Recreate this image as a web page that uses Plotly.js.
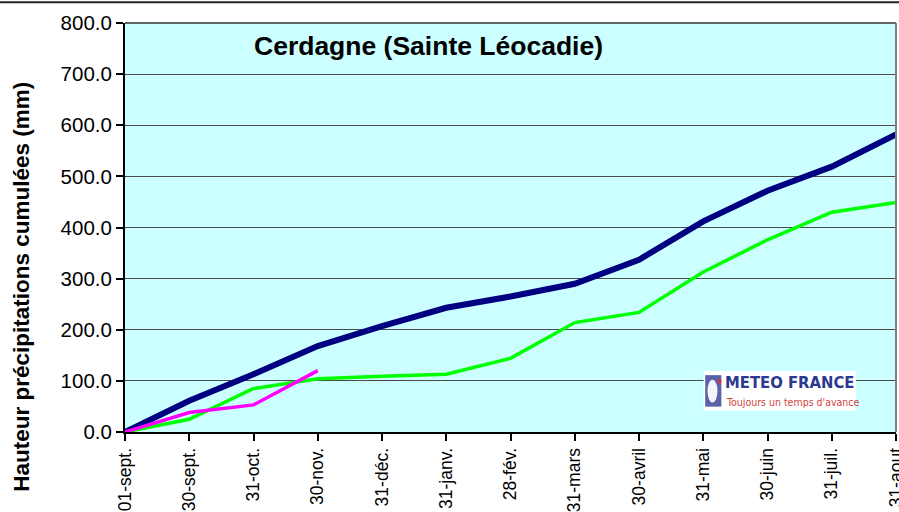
<!DOCTYPE html>
<html>
<head>
<meta charset="utf-8">
<script src="https://cdn.plot.ly/plotly-3.0.1.min.js"></script>
<style>html,body{margin:0;padding:0;background:#fff;}#chart{width:899px;height:512px;}</style>
</head>
<body>
<div id="chart"></div>
<script>
var categories = ["01-sept.", "30-sept.", "31-oct.", "30-nov.", "31-déc.", "31-janv.", "28-fév.", "31-mars", "30-avril", "31-mai", "30-juin", "31-juil.", "31-aout"];
var normale = [0, 61, 113, 168, 207, 243, 265, 290, 337, 412, 472, 519, 582];
var anneePrecedente = [0, 25, 85, 104, 109, 113, 144, 214, 234, 313, 376, 430, 449];
var anneeEnCours = [0, 38, 53, 120];
var yTicks = [0, 100, 200, 300, 400, 500, 600, 700, 800];

var FONT = "Liberation Sans, Arial, sans-serif";
var NARROW = "Liberation Sans Narrow, DejaVu Sans Condensed, Liberation Sans, sans-serif";

var traces = [
  {x: categories, y: normale, type: "scatter", mode: "lines", line: {color: "#000080", width: 6}, hoverinfo: "skip"},
  {x: categories, y: anneePrecedente, type: "scatter", mode: "lines", line: {color: "#00FF00", width: 3.5}, hoverinfo: "skip"},
  {x: categories.slice(0, anneeEnCours.length), y: anneeEnCours, type: "scatter", mode: "lines", line: {color: "#FF00FF", width: 3.5}, hoverinfo: "skip"}
];

var layout = {
  width: 899, height: 512,
  margin: {l: 125, r: 3, t: 23, b: 80, pad: 0},
  paper_bgcolor: "#ffffff",
  plot_bgcolor: "#CCFFFF",
  showlegend: false,
  font: {family: FONT, color: "#000"},
  xaxis: {
    type: "category",
    categoryorder: "array", categoryarray: categories,
    range: [0, categories.length - 1],
    showgrid: false, zeroline: false,
    showline: true, linecolor: "#000", linewidth: 2,
    ticks: "outside", ticklen: 7, tickwidth: 2, tickcolor: "#000",
    tickangle: -90,
    tickfont: {family: FONT, size: 17.5, color: "#000"}
  },
  yaxis: {
    range: [0, 800],
    tickvals: yTicks,
    tickformat: ".1f",
    showgrid: true, gridcolor: "#4a4a4a", gridwidth: 1,
    zeroline: false,
    showline: true, linecolor: "#000", linewidth: 2,
    ticks: "outside", ticklen: 7, tickwidth: 2, tickcolor: "#000",
    tickfont: {family: FONT, size: 20.5, color: "#000"}
  },
  shapes: [
    {type: "line", xref: "paper", yref: "paper", x0: -0.165, x1: 1.005, y0: 1.0505, y1: 1.0505, line: {color: "#222", width: 2}},
    {type: "line", xref: "paper", yref: "paper", x0: 0, x1: 1, y0: 1, y1: 1, line: {color: "#333", width: 1.5}},
    {type: "line", xref: "paper", yref: "paper", x0: 1, x1: 1, y0: 0, y1: 1, line: {color: "#808080", width: 2}},
    {type: "rect", xref: "paper", yref: "paper", x0: 0.7505, x1: 0.948, y0: 0.052, y1: 0.149, fillcolor: "#ffffff", line: {width: 0}, layer: "above"},
    {type: "rect", xref: "paper", yref: "paper", x0: 0.7525, x1: 0.7735, y0: 0.062, y1: 0.139, fillcolor: "#5a63a8", line: {width: 0}, layer: "above"},
    {type: "circle", xref: "paper", yref: "paper", x0: 0.7555, x1: 0.7685, y0: 0.072, y1: 0.128, fillcolor: "#f4f4fa", line: {width: 0}, layer: "above"},
    {type: "circle", xref: "paper", yref: "paper", x0: 0.7695, x1: 0.7735, y0: 0.118, y1: 0.13, fillcolor: "#e03030", line: {width: 0}, layer: "above"}
  ],
  annotations: [
    {text: "<b>Cerdagne (Sainte Léocadie)</b>", xref: "paper", yref: "paper", x: 0.393, y: 0.944, xanchor: "center", yanchor: "middle", showarrow: false, font: {family: FONT, size: 26.5, color: "#000"}},
    {text: "<b>Hauteur précipitations cumulées (mm)</b>", xref: "paper", yref: "paper", x: -0.1336, y: 0.355, xanchor: "center", yanchor: "middle", textangle: -90, showarrow: false, font: {family: FONT, size: 22.5, color: "#000"}},
    {text: "<b>METEO FRANCE</b>", xref: "paper", yref: "paper", x: 0.776, y: 0.122, xanchor: "left", yanchor: "middle", showarrow: false, font: {family: NARROW, size: 16.5, color: "#2b3990"}},
    {text: "Toujours un temps d'avance", xref: "paper", yref: "paper", x: 0.777, y: 0.073, xanchor: "left", yanchor: "middle", showarrow: false, font: {family: NARROW, size: 10.5, color: "#d0443c"}}
  ]
};

Plotly.newPlot("chart", traces, layout, {staticPlot: true, displayModeBar: false});
</script>
</body>
</html>
